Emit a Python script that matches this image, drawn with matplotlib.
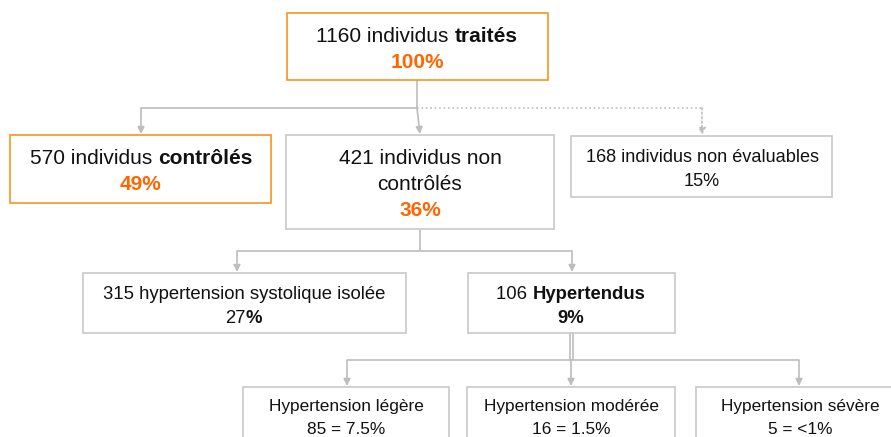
import matplotlib
matplotlib.use('Agg')
import matplotlib.pyplot as plt
from matplotlib.patches import Rectangle

plt.rcParams['font.family'] = ['Liberation Sans', 'DejaVu Sans']

ORANGE_TXT = '#FF6600'
ORANGE_BOX = '#F7941D'
GREY_BOX = '#C8C8C8'
GREY_LINE = '#BDBDBD'
BLACK = '#111111'

# --- contenu des boîtes (texte seulement) ---
# chaque ligne = liste de segments (texte, gras?, couleur)
traites = [[("1160 individus ", False, BLACK), ("traités", True, BLACK)],
           [("100%", True, ORANGE_TXT)]]
controles = [[("570 individus ", False, BLACK), ("contrôlés", True, BLACK)],
             [("49%", True, ORANGE_TXT)]]
non_controles = [[("421 individus non", False, BLACK)],
                 [("contrôlés", False, BLACK)],
                 [("36%", True, ORANGE_TXT)]]
non_evaluables = [[("168 individus non évaluables", False, BLACK)],
                  [("15%", False, BLACK)]]
hst_isolee = [[("315 hypertension systolique isolée", False, BLACK)],
              [("27", False, BLACK), ("%", True, BLACK)]]
hypertendus = [[("106 ", False, BLACK), ("Hypertendus", True, BLACK)],
               [("9%", True, BLACK)]]
ht_legere = [[("Hypertension légère", False, BLACK)], [("85 = 7.5%", False, BLACK)]]
ht_moderee = [[("Hypertension modérée", False, BLACK)], [("16 = 1.5%", False, BLACK)]]
ht_severe = [[("Hypertension sévère", False, BLACK)], [("5 = <1%", False, BLACK)]]

W, H = 891, 437
fig = plt.figure(figsize=(W / 100, H / 100), dpi=100)
ax = fig.add_axes([0, 0, 1, 1])
ax.set_xlim(0, W)
ax.set_ylim(H, 0)
ax.axis('off')
renderer = fig.canvas.get_renderer()


def draw_box(x0, y0, x1, y1, edge):
    ax.add_patch(Rectangle((x0, y0), x1 - x0, y1 - y0, fill=True, facecolor='white',
                           edgecolor=edge, lw=1.2, zorder=2))


def draw_lines(cx, ys, lines, size):
    """Texte centré, avec segments gras / colorés sur une même ligne"""
    px = size * 100 / 72
    for yc, segs in zip(ys, lines):
        texts = []
        for s, bold, col in segs:
            t = ax.text(0, yc + 0.36 * px, s, fontsize=size, color=col,
                        fontweight='bold' if bold else 'normal',
                        ha='left', va='baseline', zorder=3)
            texts.append(t)
        widths = [t.get_window_extent(renderer).width for t in texts]
        x = cx - sum(widths) / 2
        for t, w in zip(texts, widths):
            t.set_x(x)
            x += w


def arrow(x0, y0, x1, y1, ls='-'):
    ax.annotate('', xy=(x1, y1), xytext=(x0, y0),
                arrowprops=dict(arrowstyle='-|>', color=GREY_LINE, lw=1.2,
                                linestyle=ls, shrinkA=0, shrinkB=0,
                                mutation_scale=10), zorder=1)


def line(xs, ys, ls='-'):
    ax.plot(xs, ys, color=GREY_LINE, lw=1.2, ls=ls, zorder=1,
            solid_capstyle='butt')


# connecteurs
line([417, 417], [80, 108])
line([141, 417], [108, 108])
arrow(141, 108, 141, 134)
arrow(417, 108, 420, 134)
line([417, 702], [108, 108], ls=':')
arrow(702, 108, 702, 135, ls=':')

line([420, 420], [229, 251])
line([237, 572], [251, 251])
arrow(237, 251, 237, 272)
arrow(572, 251, 572, 272)

line([570, 570], [333, 360])
line([573, 573], [333, 360])
line([347, 799], [360, 360])
arrow(347, 360, 347, 386)
arrow(571, 360, 571, 386)
arrow(799, 360, 799, 386)

# boîtes
draw_box(287, 13, 548, 80, ORANGE_BOX)
draw_lines(417, [34, 60], traites, 15)

draw_box(10, 135, 271, 203, ORANGE_BOX)
draw_lines(141, [157, 183], controles, 15)

draw_box(286, 135, 554, 229, GREY_BOX)
draw_lines(420, [157, 183, 208], non_controles, 15)

draw_box(571, 136, 832, 197, GREY_BOX)
draw_lines(702, [155, 179], non_evaluables, 13.1)

draw_box(83, 273, 406, 333, GREY_BOX)
draw_lines(244, [292, 316], hst_isolee, 13.3)

draw_box(468, 273, 675, 333, GREY_BOX)
draw_lines(571, [292, 316], hypertendus, 13.3)

draw_box(243, 387, 449, 450, GREY_BOX)
draw_lines(346, [405, 428], ht_legere, 12.4)

draw_box(467, 387, 675, 450, GREY_BOX)
draw_lines(571, [405, 428], ht_moderee, 12.4)

draw_box(696, 387, 905, 450, GREY_BOX)
draw_lines(800, [405, 428], ht_severe, 12.4)

fig.savefig('out.png', dpi=100)
